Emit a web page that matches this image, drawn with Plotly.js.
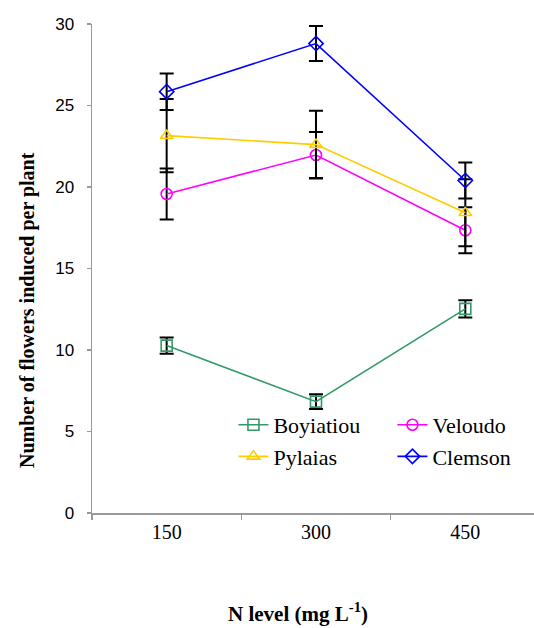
<!DOCTYPE html>
<html>
<head>
<meta charset="utf-8">
<script src="https://cdn.plot.ly/plotly-3.0.1.min.js"></script>
<style>html,body{margin:0;padding:0;background:#fff;}#chart{width:534px;height:628px;}</style>
</head>
<body>
<div id="chart"></div>
<script>
var categories = ["150", "300", "450"];
var boyiatiou = [10.27, 6.83, 12.52];
var boyiatiouErr = [0.5, 0.45, 0.53];
var veloudo = [19.57, 21.96, 17.35];
var veloudoErr = [1.57, 1.41, 1.41];
var pylaias = [23.15, 22.6, 18.42];
var pylaiasErr = [2.25, 2.08, 2.05];
var clemson = [25.85, 28.8, 20.4];
var clemsonErr = [1.12, 1.07, 1.1];

var SERIF = 'Times New Roman';
var SANS = 'Arial';

function mk(name, y, err, color, symbol) {
  return {
    type: 'scatter', mode: 'lines+markers', name: name,
    x: categories, y: y,
    line: {color: color, width: 1.6},
    marker: {symbol: symbol, size: 11, color: color, line: {color: color, width: 1.6}},
    error_y: {type: 'data', array: err, visible: true, color: '#000', thickness: 2, width: 7}
  };
}
var data = [
  mk('Boyiatiou', boyiatiou, boyiatiouErr, '#339966', 'square-open'),
  mk('Veloudo', veloudo, veloudoErr, '#FF00FF', 'circle-open'),
  mk('Pylaias', pylaias, pylaiasErr, '#FFCC00', 'triangle-up-open'),
  mk('Clemson', clemson, clemsonErr, '#0000FF', 'diamond-open')
];
var layout = {
  width: 534, height: 628,
  margin: {l: 92, r: 0, t: 24, b: 115, autoexpand: false},
  paper_bgcolor: '#fff', plot_bgcolor: '#fff',
  font: {family: SERIF, color: '#000'},
  showlegend: true,
  legend: {
    orientation: 'h', x: 0.32, y: 0.223, xanchor: 'left', yanchor: 'top',
    entrywidth: 114, entrywidthmode: 'pixels',
    font: {family: SERIF, size: 22, color: '#000'},
    bgcolor: 'rgba(0,0,0,0)', tracegroupgap: 0
  },
  xaxis: {
    type: 'category', range: [-0.5, 2.46], showline: true, linecolor: '#999999', linewidth: 1.5,
    showgrid: false, zeroline: false, ticks: 'outside', tickson: 'boundaries', ticklen: 5,
    tickcolor: '#999999', tickwidth: 1.5,
    tickfont: {family: SERIF, size: 20, color: '#000'}
  },
  yaxis: {
    range: [0, 30], dtick: 5, showline: true, linecolor: '#999999', linewidth: 1.5,
    showgrid: false, zeroline: false, ticks: 'outside', ticklen: 4, tickcolor: '#999999', tickwidth: 1.5,
    ticklabelstandoff: 9,
    tickfont: {family: SANS, size: 17, color: '#000'}
  },
  annotations: [
    {text: '<b>Number of flowers induced per plant</b>', xref: 'paper', yref: 'paper',
     x: (27 - 92) / 442, y: (513 - 310) / 489, textangle: -90, showarrow: false,
     xanchor: 'center', yanchor: 'middle', font: {family: SERIF, size: 20, color: '#000'}},
    {text: '<b>N level (mg L<sup>-1</sup>)</b>', xref: 'paper', yref: 'paper',
     x: (298 - 92) / 442, y: (513 - 612) / 489, showarrow: false,
     xanchor: 'center', yanchor: 'middle', font: {family: SERIF, size: 21, color: '#000'}}
  ]
};
Plotly.newPlot('chart', data, layout, {displayModeBar: false, staticPlot: true});
</script>
</body>
</html>
